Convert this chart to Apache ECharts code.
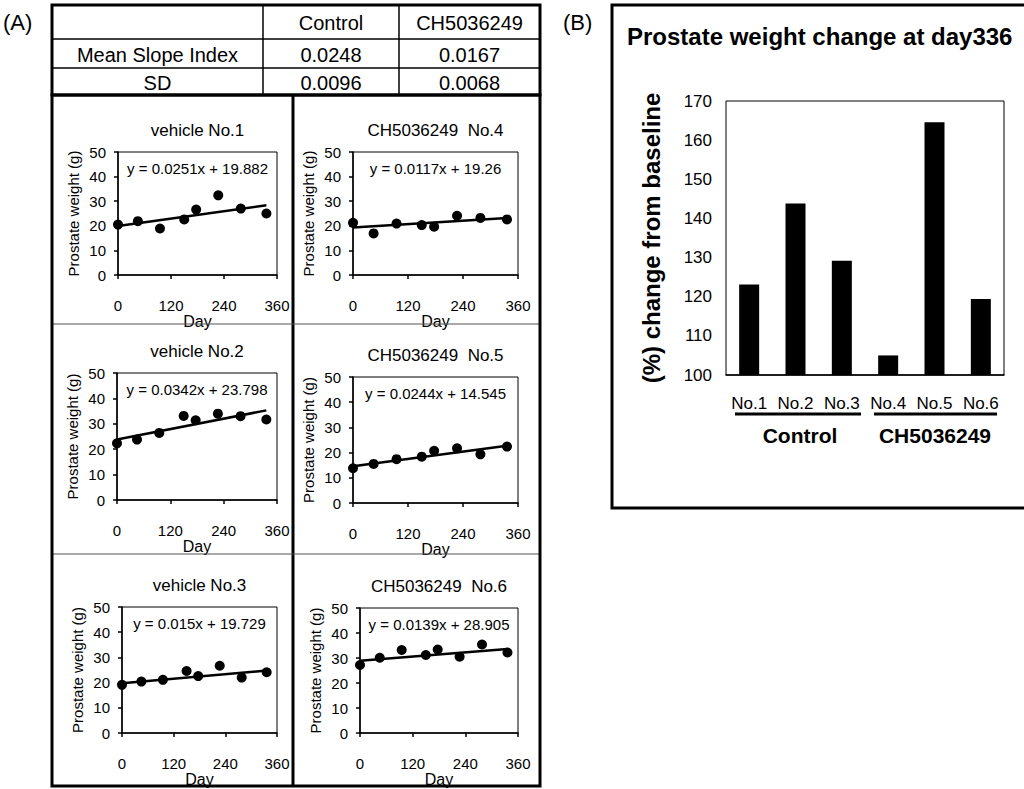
<!DOCTYPE html>
<html>
<head>
<meta charset="utf-8">
<script src="https://cdn.jsdelivr.net/npm/echarts@6/dist/echarts.min.js"></script>
<style>
  html, body { margin: 0; padding: 0; background: #fff; }
  #main { width: 1024px; height: 789px; }
</style>
</head>
<body>
<div id="main"></div>
<script>
// sampling days (x) shared by all six animals
var days = [0, 45, 95, 150, 177, 227, 278, 336];

// prostate weight (g)
var vehicle1 = [20.5, 21.9, 18.9, 22.6, 26.6, 32.4, 27.0, 25.0];
var vehicle2 = [22.3, 23.8, 26.4, 33.1, 31.4, 34.0, 33.0, 31.7];
var vehicle3 = [19.1, 20.4, 21.1, 24.6, 22.6, 26.7, 22.0, 24.1];
var ch4 = [21.2, 16.9, 20.9, 20.3, 19.6, 24.1, 23.2, 22.6];
var ch5 = [13.8, 15.5, 17.4, 18.4, 20.7, 21.7, 19.3, 22.4];
var ch6 = [27.2, 30.1, 33.2, 31.2, 33.4, 30.5, 35.4, 32.2];

var panelTitles = ['vehicle No.1', 'vehicle No.2', 'vehicle No.3',
    'CH5036249  No.4', 'CH5036249  No.5', 'CH5036249  No.6'];
// regression lines printed in each panel
var slopes = [0.0251, 0.0342, 0.015, 0.0117, 0.0244, 0.0139];
var intercepts = [19.882, 23.798, 19.729, 19.26, 14.545, 28.905];

var dayTicks = [0, 120, 240, 360];

// table
var tableCols = ['', 'Control', 'CH5036249'];
var tableRows = [['Mean Slope Index', '0.0248', '0.0167'], ['SD', '0.0096', '0.0068']];

// panel B
var barLabels = ['No.1', 'No.2', 'No.3', 'No.4', 'No.5', 'No.6'];
var barValues = [123.1, 143.8, 129.2, 105.0, 164.6, 119.4];

var FONT = '"Liberation Sans", Arial, sans-serif';

var weights = [vehicle1, vehicle2, vehicle3, ch4, ch5, ch6];
// plot boxes [left, top, right, bottom] in px
var boxes = [
    [118, 152, 277, 275],
    [117, 373, 277, 500],
    [122, 607, 277, 733],
    [353, 152, 518, 275],
    [353, 377, 518, 503],
    [360, 608, 518, 733]
];

var grids = [], xAxes = [], yAxes = [], series = [], graphics = [];

function txt(x, y, text, size, opts) {
    opts = opts || {};
    return {
        type: 'text', x: x, y: y, z: 10,
        style: {
            text: text,
            font: (opts.bold ? 'bold ' : '') + size + 'px ' + FONT,
            fill: '#000',
            align: opts.align || 'center',
            verticalAlign: 'middle'
        }
    };
}
function line(x1, y1, x2, y2, w, color) {
    return {
        type: 'line', z: 5,
        shape: { x1: x1, y1: y1, x2: x2, y2: y2 },
        style: { stroke: color || '#000', lineWidth: w }
    };
}

boxes.forEach(function (b, i) {
    grids.push({
        left: b[0], top: b[1], width: b[2] - b[0], height: b[3] - b[1],
        show: true, borderColor: '#000', borderWidth: 1, backgroundColor: 'transparent'
    });
    xAxes.push({
        type: 'value', gridIndex: i, min: dayTicks[0], max: dayTicks[dayTicks.length - 1],
        interval: dayTicks[1] - dayTicks[0],
        name: 'Day', nameLocation: 'middle', nameGap: 33,
        nameTextStyle: { fontFamily: FONT, fontSize: 16, color: '#000' },
        axisLine: { lineStyle: { color: '#000', width: 1.5 } },
        axisTick: { length: 4, lineStyle: { color: '#000', width: 1.5 } },
        axisLabel: { margin: 23, fontFamily: FONT, fontSize: 15, color: '#000' },
        splitLine: { show: false }
    });
    yAxes.push({
        type: 'value', gridIndex: i, min: 0, max: 50, interval: 10,
        name: 'Prostate weight (g)', nameLocation: 'middle', nameGap: 37,
        nameTextStyle: { fontFamily: FONT, fontSize: 15, color: '#000' },
        axisLine: { lineStyle: { color: '#000', width: 1.5 } },
        axisTick: { length: 4, lineStyle: { color: '#000', width: 1.5 } },
        axisLabel: { margin: 12, fontFamily: FONT, fontSize: 15, color: '#000' },
        splitLine: { show: false }
    });
    series.push({
        type: 'scatter', xAxisIndex: i, yAxisIndex: i, symbolSize: 10,
        itemStyle: { color: '#000', opacity: 1 }, z: 3,
        data: days.map(function (d, k) { return [d, weights[i][k]]; })
    });
    var lastDay = days[days.length - 1];
    series.push({
        type: 'line', xAxisIndex: i, yAxisIndex: i, showSymbol: false, z: 2,
        lineStyle: { color: '#000', width: 2.5 },
        data: [[0, intercepts[i]], [lastDay, slopes[i] * lastDay + intercepts[i]]]
    });
    var cx = (b[0] + b[2]) / 2;
    graphics.push(txt(cx, b[1] - 22, panelTitles[i], 17));
    graphics.push(txt(cx, b[1] + 16, 'y = ' + slopes[i] + 'x + ' + intercepts[i], 15));
});

// panel B bar chart
var bi = boxes.length;
grids.push({
    left: 726, top: 101, width: 278, height: 274,
    show: true, borderColor: '#000', borderWidth: 1, backgroundColor: 'transparent'
});
xAxes.push({
    type: 'category', gridIndex: bi, data: barLabels,
    axisLine: { lineStyle: { color: '#000', width: 1.5 } },
    axisTick: { inside: true, length: 5, lineStyle: { color: '#000', width: 1.5 } },
    axisLabel: { interval: 0, hideOverlap: false, margin: 20, fontFamily: FONT, fontSize: 17, color: '#000' }
});
yAxes.push({
    type: 'value', gridIndex: bi, min: 100, max: 170, interval: 10,
    name: '(%) change from baseline', nameLocation: 'middle', nameGap: 63,
    nameTextStyle: { fontFamily: FONT, fontSize: 24, fontWeight: 'bold', color: '#000' },
    axisLine: { lineStyle: { color: '#000', width: 1.5 } },
    axisTick: { length: 5, lineStyle: { color: '#000', width: 1.5 } },
    axisLabel: { margin: 14, fontFamily: FONT, fontSize: 17, color: '#000' },
    splitLine: { show: false }
});
series.push({
    type: 'bar', xAxisIndex: bi, yAxisIndex: bi, barWidth: 20,
    itemStyle: { color: '#000' }, data: barValues
});

// panel labels
graphics.push(txt(3, 22, '(A)', 22, { align: 'left' }));
graphics.push(txt(563, 22, '(B)', 22, { align: 'left' }));

// table (A)
var tx = [52, 263, 399, 540], ty = [5, 39, 68, 95];
graphics.push({ type: 'rect', z: 6, shape: { x: 52, y: 5, width: 488, height: 90 },
    style: { fill: 'none', stroke: '#000', lineWidth: 3 } });
graphics.push(line(tx[1], ty[0], tx[1], ty[3], 1.5));
graphics.push(line(tx[2], ty[0], tx[2], ty[3], 1.5));
graphics.push(line(tx[0], ty[1], tx[3], ty[1], 1.5));
graphics.push(line(tx[0], ty[2], tx[3], ty[2], 1.5));
var allRows = [tableCols].concat(tableRows);
allRows.forEach(function (row, r) {
    row.forEach(function (cell, c) {
        if (cell) graphics.push(txt((tx[c] + tx[c + 1]) / 2, (ty[r] + ty[r + 1]) / 2 + 1, cell, 20));
    });
});

// panel grid frame (A)
graphics.push({ type: 'rect', z: 6, shape: { x: 52, y: 95, width: 488, height: 691 },
    style: { fill: 'none', stroke: '#000', lineWidth: 3 } });
graphics.push(line(293, 95, 293, 786, 3));
graphics.push(line(52, 324, 540, 324, 1.2, '#555'));
graphics.push(line(52, 554, 540, 554, 1.2, '#555'));

// panel B frame, title and group labels
graphics.push({ type: 'rect', z: 6, shape: { x: 612, y: 5, width: 430, height: 503 },
    style: { fill: 'none', stroke: '#000', lineWidth: 3 } });
graphics.push(txt(627, 36, 'Prostate weight change at day336', 24, { bold: true, align: 'left' }));
graphics.push(line(735, 414, 861, 414, 3));
graphics.push(line(874, 414, 997, 414, 3));
graphics.push(txt(800, 435, 'Control', 21, { bold: true }));
graphics.push(txt(935, 435, 'CH5036249', 21, { bold: true }));

var chart = echarts.init(document.getElementById('main'), null, { renderer: 'svg' });
chart.setOption({
    animation: false,
    backgroundColor: '#fff',
    grid: grids,
    xAxis: xAxes,
    yAxis: yAxes,
    series: series,
    graphic: graphics
});
</script>
</body>
</html>
